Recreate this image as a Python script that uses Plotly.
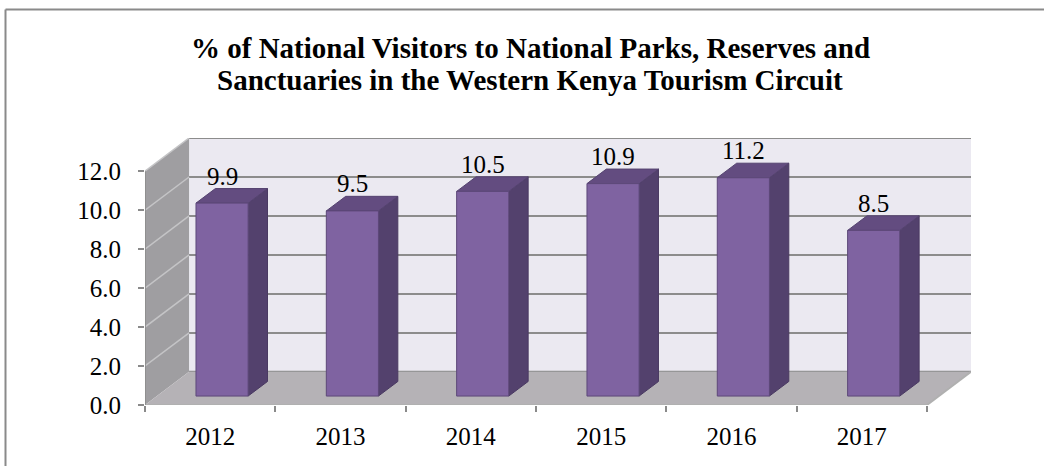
import plotly.graph_objects as go

# ---- data ----
years = ["2012", "2013", "2014", "2015", "2016", "2017"]
shares = [9.9, 9.5, 10.5, 10.9, 11.2, 8.5]
y_ticks = [0, 2, 4, 6, 8, 10, 12]
y_max = 12
title_lines = [
    "% of National Visitors to National Parks, Reserves and",
    "Sanctuaries in the Western Kenya Tourism Circuit",
]

# ---- pseudo-3D geometry (axis units) ----
DEPTH_X = 0.338          # oblique depth along the category axis
DEPTH_Y = 1.70           # oblique depth along the value axis
BAR_FRONT, BAR_BACK = 0.27, 0.71   # depth fractions taken by the bar bodies
BAR_LEFT, BAR_WIDTH = 0.30, 0.40   # position inside each category slot

W, H = 1044, 466
ML, MR, MT, MB = 145, 73, 138, 61
FONT = "Liberation Serif"
n = len(years)

x_range = [0, n + DEPTH_X]
y_range = [0, y_max + DEPTH_Y]

fig = go.Figure()


def polys(shapes, fill, line_color, line_width=1):
    xs, ys = [], []
    for pts in shapes:
        for px, py in pts:
            xs.append(px)
            ys.append(py)
        xs.append(pts[0][0]); ys.append(pts[0][1])
        xs.append(None); ys.append(None)
    fig.add_trace(go.Scatter(
        x=xs, y=ys, mode="lines", fill="toself", fillcolor=fill,
        line=dict(color=line_color, width=line_width),
        hoverinfo="skip", showlegend=False))


def lines(segments, color, width):
    xs, ys = [], []
    for (ax, ay), (bx, by) in segments:
        xs += [ax, bx, None]
        ys += [ay, by, None]
    fig.add_trace(go.Scatter(
        x=xs, y=ys, mode="lines", line=dict(color=color, width=width),
        hoverinfo="skip", showlegend=False))


# walls and floor
polys([[(DEPTH_X, DEPTH_Y), (n + DEPTH_X, DEPTH_Y),
        (n + DEPTH_X, y_max + DEPTH_Y), (DEPTH_X, y_max + DEPTH_Y)]],
      "#ebe9f1", "rgba(0,0,0,0)", 0)
polys([[(0, 0), (0, y_max), (DEPTH_X, y_max + DEPTH_Y), (DEPTH_X, DEPTH_Y)]],
      "#9f9ea1", "rgba(0,0,0,0)", 0)

# gridlines on back and side walls
grid_back = [((DEPTH_X, v + DEPTH_Y), (n + DEPTH_X, v + DEPTH_Y)) for v in y_ticks]
grid_side = [((0, v), (DEPTH_X, v + DEPTH_Y)) for v in y_ticks[1:]]
lines(grid_back, "#8c8c8c", 2)
lines(grid_side, "#c4c4c6", 1.5)

polys([[(0, 0), (n, 0), (n + DEPTH_X, DEPTH_Y), (DEPTH_X, DEPTH_Y)]],
      "#b5b2b6", "rgba(0,0,0,0)", 0)

# floor edges and front value axis
lines([((0, 0), (n, 0)), ((n, 0), (n + DEPTH_X, DEPTH_Y))], "#b0b0b0", 2)
lines([((0, 0), (0, y_max))], "#8a8a8a", 1.5)

# bars
fx, fy = BAR_FRONT * DEPTH_X, BAR_FRONT * DEPTH_Y
bx, by = BAR_BACK * DEPTH_X, BAR_BACK * DEPTH_Y
fronts, sides, tops = [], [], []
for i, v in enumerate(shares):
    x0 = i + BAR_LEFT
    x1 = x0 + BAR_WIDTH
    fronts.append([(x0 + fx, fy), (x1 + fx, fy), (x1 + fx, v + fy), (x0 + fx, v + fy)])
    sides.append([(x1 + fx, fy), (x1 + bx, by), (x1 + bx, v + by), (x1 + fx, v + fy)])
    tops.append([(x0 + fx, v + fy), (x1 + fx, v + fy), (x1 + bx, v + by), (x0 + bx, v + by)])
    fig.add_annotation(
        x=x0 + fx + BAR_WIDTH / 2, y=v + by, xref="x", yref="y",
        text=f"{v:.1f}", showarrow=False, yanchor="bottom", yshift=-3,
        font=dict(family=FONT, size=25, color="black"))

polys(sides, "#53416d", "#4a3a62")
polys(tops, "#634c80", "#554370")
polys(fronts, "#7f63a1", "#5d4879")

# x-axis category labels on an overlaid axis
centers = [i + 0.5 for i in range(n)]
fig.add_trace(go.Scatter(x=centers, y=[None] * n, xaxis="x2", yaxis="y",
                         hoverinfo="skip", showlegend=False))

# pixel -> paper helpers for the chart furniture
pw, ph = W - ML - MR, H - MT - MB


def px_x(p):
    return (p - ML) / pw


def px_y(p):
    return (H - MB - p) / ph


# outer frame (left and top edges of the chart area)
fig.add_shape(type="line", xref="paper", yref="paper",
              x0=px_x(5.5), x1=px_x(W + 5), y0=px_y(9.5), y1=px_y(9.5),
              line=dict(color="#8a8a8a", width=2))
fig.add_shape(type="line", xref="paper", yref="paper",
              x0=px_x(5.5), x1=px_x(5.5), y0=px_y(9.5), y1=px_y(H + 5),
              line=dict(color="#8a8a8a", width=2))

# two-line bold title
for k, line in enumerate(title_lines):
    fig.add_annotation(
        x=px_x(530), y=px_y(48 + 32 * k), xref="paper", yref="paper",
        text="<b>" + line + "</b>", showarrow=False,
        xanchor="center", yanchor="middle",
        font=dict(family=FONT, size=29, color="black"))

fig.update_layout(
    width=W, height=H,
    margin=dict(l=ML, r=MR, t=MT, b=MB),
    paper_bgcolor="white", plot_bgcolor="rgba(0,0,0,0)",
    xaxis=dict(range=x_range, tickvals=list(range(n + 1)), showticklabels=False,
               ticks="outside", ticklen=6, tickwidth=1.5, tickcolor="#8a8a8a",
               showgrid=False, zeroline=False, showline=False, fixedrange=True),
    xaxis2=dict(range=x_range, overlaying="x", anchor="y", side="bottom",
                tickvals=centers, ticktext=years, ticks="", showgrid=False,
                zeroline=False, showline=False, ticklabelstandoff=14,
                tickfont=dict(family=FONT, size=25, color="black")),
    yaxis=dict(range=y_range, tickvals=y_ticks, tickformat=".1f",
               ticks="outside", ticklen=6, tickwidth=1.5, tickcolor="#8a8a8a",
               showgrid=False, zeroline=False, showline=False,
               ticklabelstandoff=12,
               tickfont=dict(family=FONT, size=25, color="black")),
    showlegend=False,
)

fig.write_html("out.html")
